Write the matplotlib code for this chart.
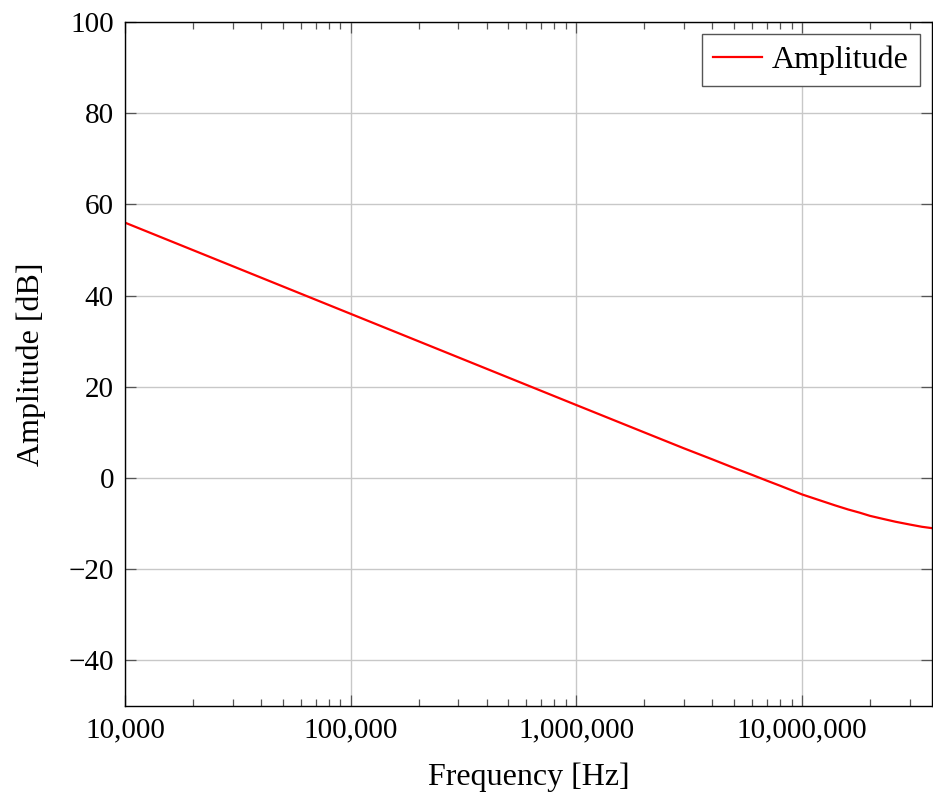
import matplotlib
matplotlib.use('Agg')
import matplotlib.pyplot as plt
from matplotlib.ticker import FuncFormatter, LogLocator, MultipleLocator

# values
freq = [1e4, 1e5, 1e6, 2e6, 3e6, 4e6, 5e6, 6e6, 7e6, 8e6, 9e6, 1e7,
        1.2e7, 1.4e7, 1.6e7, 1.8e7, 2e7, 2.3e7, 2.6e7, 3e7, 3.4e7, 3.77e7]
amp = [56.0, 36.0, 16.0, 10.0, 6.5, 4.1, 2.2, 0.7, -0.6, -1.7, -2.7, -3.6,
       -4.9, -6.0, -6.9, -7.6, -8.3, -9.0, -9.6, -10.2, -10.7, -11.0]

plt.rcParams['font.family'] = ['Liberation Serif', 'DejaVu Serif']
plt.rcParams['font.size'] = 21

fig = plt.figure(figsize=(9.33, 7.98), dpi=100)
ax = fig.add_axes([0.134, 0.1153, 0.865, 0.8571])

ax.plot(freq, amp, color='red', lw=1.6, label='Amplitude')

ax.set_xscale('log')
ax.set_xlim(1e4, 3.77e7)
ax.set_ylim(-50, 100)
ax.yaxis.set_major_locator(MultipleLocator(20))
ax.xaxis.set_major_locator(LogLocator(base=10))
ax.xaxis.set_minor_locator(LogLocator(base=10, subs=range(2, 10)))
ax.xaxis.set_major_formatter(FuncFormatter(lambda v, p: f'{v:,.0f}'))
ax.xaxis.set_minor_formatter(FuncFormatter(lambda v, p: ''))

ax.grid(True, which='major', color='#c8c8c8', lw=1.0)
ax.set_axisbelow(True)
ax.tick_params(which='both', direction='in', top=True, right=True,
               color='#555555', width=0.9)
ax.tick_params(which='major', length=8, pad=8)
ax.tick_params(which='minor', length=5)
for s in ax.spines.values():
    s.set_linewidth(1.0)

ax.set_xlabel('Frequency [Hz]', fontsize=23, labelpad=14)
ax.set_ylabel('Amplitude [dB]', fontsize=23, labelpad=16)

ax.legend(loc='upper right', fancybox=False, edgecolor='#555555',
          framealpha=1, handlelength=1.55, handletextpad=0.3,
          borderpad=0.35, borderaxespad=0, fontsize=23,
          bbox_to_anchor=(0.985, 0.982))

fig.savefig('out.png', dpi=100)
